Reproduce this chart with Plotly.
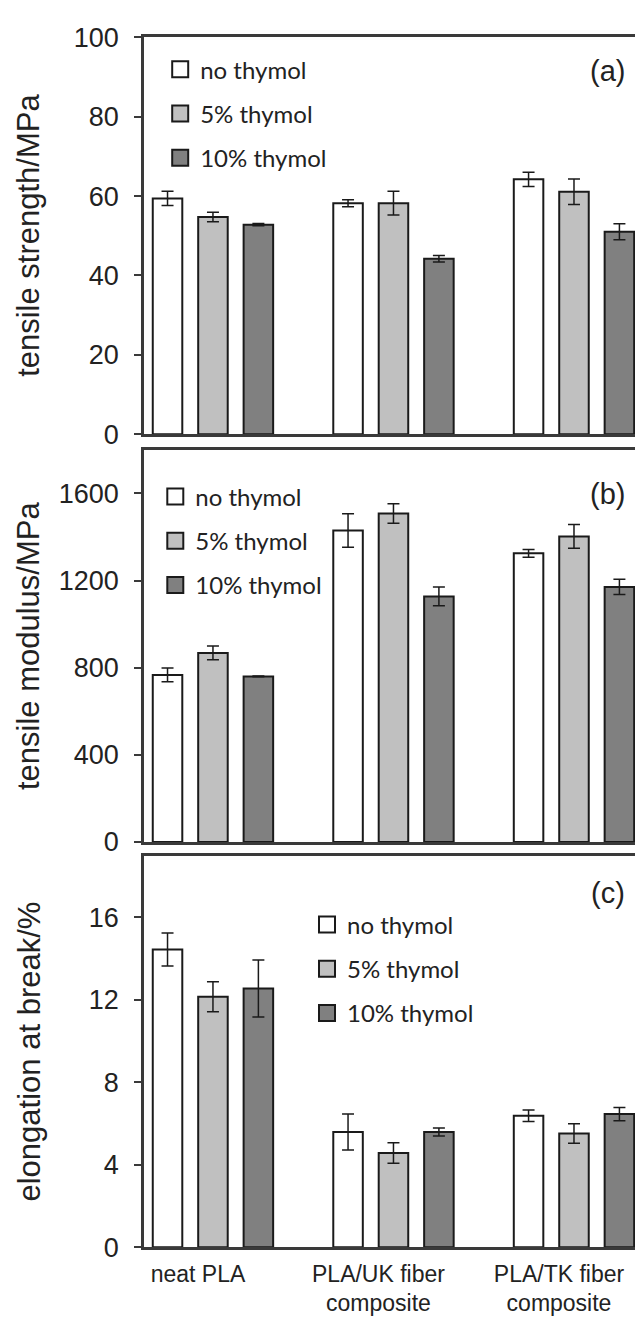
import plotly.graph_objects as go

categories = ["neat PLA", "PLA/UK fiber<br>composite", "PLA/TK fiber<br>composite"]
series_names = ["no thymol", "5% thymol", "10% thymol"]
series_colors = ["#ffffff", "#c0c0c0", "#808080"]

# (a) tensile strength / MPa
strength = [[59.4, 58.2, 64.2], [54.7, 58.2, 61.1], [52.8, 44.2, 51.0]]
strength_err = [[1.8, 0.9, 1.8], [1.2, 3.0, 3.2], [0.3, 0.8, 2.0]]
# (b) tensile modulus / MPa
modulus = [[767, 1430, 1325], [868, 1508, 1403], [760, 1127, 1171]]
modulus_err = [[32, 77, 18], [32, 45, 55], [2, 43, 35]]
# (c) elongation at break / %
elong = [[14.44, 5.59, 6.38], [12.15, 4.57, 5.52], [12.55, 5.59, 6.46]]
elong_err = [[0.8, 0.87, 0.28], [0.73, 0.5, 0.47], [1.38, 0.2, 0.32]]

panels = [
    dict(vals=strength, errs=strength_err, title="tensile strength/MPa", label="(a)",
         yrange=[0, 100], dtick=20, dom=[0.6772, 0.9829], leg=(0.033, 0.9752), lab_y=0.9156),
    dict(vals=modulus, errs=modulus_err, title="tensile modulus/MPa", label="(b)",
         yrange=[0, 1800], dtick=400, dom=[0.3634, 0.6652], leg=(0.023, 0.6463), lab_y=0.888),
    dict(vals=elong, errs=elong_err, title="elongation at break/%", label="(c)",
         yrange=[0, 19], dtick=4, dom=[0.0514, 0.3529], leg=(0.332, 0.3168), lab_y=0.905),
]

AX_FONT = "Liberation Sans, Arial, sans-serif"
LEG_FONT = "Lato, Carlito, Calibri, sans-serif"
LINE_C = "#3a3a3a"
EDGE_C = "#1a1a1a"

fig = go.Figure()
annotations = []
for p_i, p in enumerate(panels):
    n = p_i + 1
    xname = "x" if n == 1 else f"x{n}"
    yname = "y" if n == 1 else f"y{n}"
    legname = "legend" if n == 1 else f"legend{n}"
    for s_i, sname in enumerate(series_names):
        fig.add_trace(go.Bar(
            x=categories, y=p["vals"][s_i], name=sname,
            xaxis=xname, yaxis=yname, showlegend=False,
            marker=dict(color=series_colors[s_i], line=dict(color=EDGE_C, width=2)),
            error_y=dict(type="data", array=p["errs"][s_i], color=EDGE_C,
                         thickness=1.5, width=6),
        ))
        # legend-only entry (larger square swatch like the original)
        fig.add_trace(go.Scatter(
            x=[None], y=[None], mode="markers", name=sname,
            xaxis=xname, yaxis=yname, legend=legname,
            legendgroup=f"{legname}_{s_i}", hoverinfo="skip",
            marker=dict(symbol="square", size=16, color=series_colors[s_i],
                        line=dict(color=EDGE_C, width=2)),
        ))
    xa = dict(domain=[0, 1], anchor=yname, type="category",
              categoryorder="array", categoryarray=categories,
              range=[-0.382, 2.338], showline=True, mirror=True,
              linecolor=LINE_C, linewidth=2.5, ticks="", showgrid=False,
              zeroline=False, showticklabels=(n == 3),
              tickfont=dict(family=AX_FONT, size=23, color="#222"))
    if n == 3:
        xa.update(ticklabelshift=-15, ticklabelstandoff=4)
    ya = dict(domain=p["dom"], anchor=xname, range=p["yrange"], dtick=p["dtick"],
              tick0=0, showline=True, mirror=False, linecolor=LINE_C, linewidth=2.5,
              ticks="outside", ticklen=7, tickwidth=2, tickcolor=LINE_C,
              showgrid=False, zeroline=False, ticklabelstandoff=10,
              tickfont=dict(family=AX_FONT, size=27, color="#222"))
    fig.layout[("xaxis" if n == 1 else f"xaxis{n}")] = xa
    fig.layout[("yaxis" if n == 1 else f"yaxis{n}")] = ya
    fig.layout[legname] = dict(x=p["leg"][0], y=p["leg"][1], xanchor="left", yanchor="top",
                               bgcolor="rgba(0,0,0,0)", tracegroupgap=10,
                               font=dict(family=LEG_FONT, size=24, color="#222"))
    annotations.append(dict(text=p["title"], textangle=-90, xref="paper",
                            yref=f"{yname} domain", x=-0.234, y=0.5,
                            xanchor="center", yanchor="middle", showarrow=False,
                            font=dict(family=AX_FONT, size=31, color="#222")))
    annotations.append(dict(text=p["label"], xref="paper", yref=f"{yname} domain",
                            x=0.945, y=p["lab_y"], xanchor="center", yanchor="middle",
                            showarrow=False,
                            font=dict(family=AX_FONT, size=29, color="#222")))

fig.update_layout(
    width=635, height=1329,
    margin=dict(l=144, r=0, t=0, b=0),
    barmode="group", bargap=0.245, bargroupgap=0.35,
    plot_bgcolor="white", paper_bgcolor="white",
    annotations=annotations,
)

fig.write_html("out.html")
